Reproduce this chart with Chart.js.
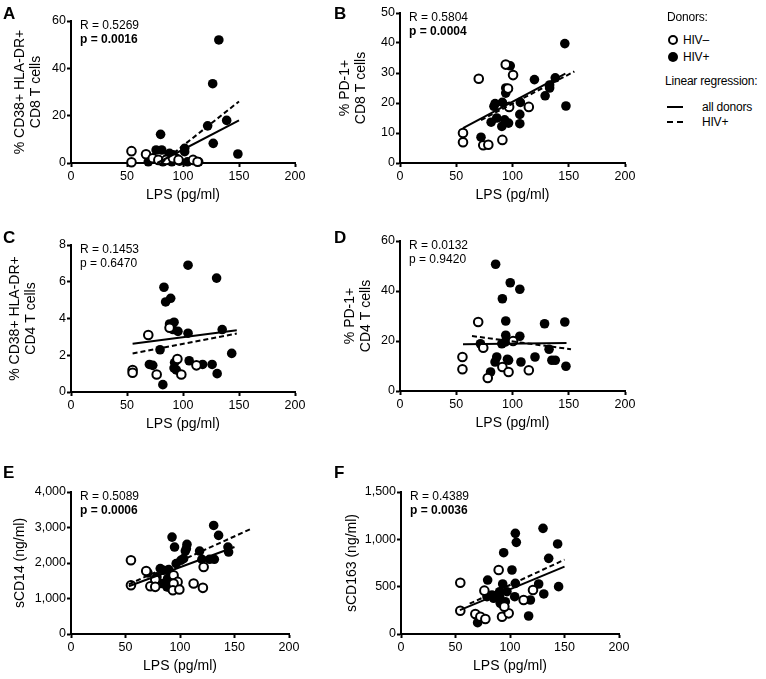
<!DOCTYPE html>
<html lang="en">
<head>
<meta charset="UTF-8">
<title>LPS correlations</title>
<script src="https://cdn.jsdelivr.net/npm/chart.js"></script>
<style>
  body { margin: 0; background: #fff; font-family: "Liberation Sans", Arial, sans-serif; color: #000; }
  #fig { position: relative; width: 766px; height: 679px; overflow: hidden; }
  canvas { position: absolute; }
  .tag { position: absolute; font-weight: bold; font-size: 17px; line-height: 17px; }
  .lg { position: absolute; font-size: 12px; line-height: 16px; letter-spacing: -0.2px; white-space: nowrap; }
  .dot { position: absolute; width: 6px; height: 6px; border: 2px solid #000; border-radius: 50%; background: #fff; }
  .dot.full { background: #000; width: 10px; height: 10px; border: 0; }
  .ln { position: absolute; width: 16px; border-top: 2px solid #000; }
  .ln.dash { border-top: 2px dashed #000; }
</style>
</head>
<body>
<div id="fig">
  <canvas id="pA"></canvas>
  <canvas id="pB"></canvas>
  <canvas id="pC"></canvas>
  <canvas id="pD"></canvas>
  <canvas id="pE"></canvas>
  <canvas id="pF"></canvas>

  <div class="tag" style="left:3px;top:5px">A</div>
  <div class="tag" style="left:334px;top:5px">B</div>
  <div class="tag" style="left:3px;top:229px">C</div>
  <div class="tag" style="left:334px;top:229px">D</div>
  <div class="tag" style="left:3px;top:464px">E</div>
  <div class="tag" style="left:334px;top:464px">F</div>

  <div class="lg" style="left:667px;top:9px">Donors:</div>
  <div class="dot" style="left:668px;top:35px"></div>
  <div class="lg" style="left:683px;top:32px">HIV–</div>
  <div class="dot full" style="left:668px;top:52px"></div>
  <div class="lg" style="left:683px;top:49px">HIV+</div>
  <div class="lg" style="left:665px;top:73px">Linear regression:</div>
  <div class="ln" style="left:667px;top:106px"></div>
  <div class="lg" style="left:702px;top:99px">all donors</div>
  <div class="ln dash" style="left:667px;top:121px"></div>
  <div class="lg" style="left:702px;top:114px">HIV+</div>
</div>

<script>
// x axis (LPS, pg/ml) is the same for every panel
const lpsTicks = [0, 50, 100, 150, 200];

// A: % CD38+ HLA-DR+ CD8 T cells
const aTicks = [0, 20, 40, 60];
const aNeg = [[54,5],[54,0.3],[67,3.7],[73,2],[78,1.3],[85,1.3],[91,2],[96,1.3],[109,1.3],[113,0.5]];
const aPos = [[132,52],[126.5,33.5],[122,15.7],[139,18],[127,8.3],[149,3.8],[80,12.1],[76,5.5],[81,5.5],
              [101.5,6.2],[101.5,4.8],[88,4.1],[91,3.5],[94,2],[86,2],[69,0.5],[82,0.5],[90,0.5],[104,0.5],[114,0.5],[97,0.8]];
const aFitAll = [[77,0],[150,18]];
const aFitPos = [[80.5,0],[150,26]];

// B: % PD-1+ CD8 T cells
const bTicks = [0, 10, 20, 30, 40, 50];
const bNeg = [[56,10],[56,6.9],[70,28.1],[74,5.9],[78.5,6.1],[91,7.7],[94,32.8],[96,24.8],[100.5,29.3],[97,18.7],[114.5,18.7]];
const bPos = [[72,8.6],[146.5,39.8],[147.5,19],[98,32.4],[119.5,27.8],[138,28.4],[133,26],[133,25],[129,22.4],[107,20.2],
              [106.5,16.2],[106.5,13.1],[94,25],[94,23.3],[84.5,19.8],[83.5,18.9],[91,20.2],[86,15],[81,13.6],[90.5,12.2],[93,14.4],[96.5,13.3]];
const bFitAll = [[56,11.6],[147,29.8]];
const bFitPos = [[72,14.3],[155,30.5]];

// C: % CD38+ HLA-DR+ CD4 T cells
const cTicks = [0, 2, 4, 6, 8];
const cNeg = [[69,3.1],[55,1.2],[55,1.05],[76.5,0.95],[95,1.8],[98.5,0.95],[112,1.45],[88,3.5]];
const cPos = [[104.5,6.9],[130,6.2],[83,5.7],[89,5.1],[84.5,4.9],[88,3.7],[92,3.8],[91,3.4],[95.5,3.3],[104.5,3.2],[135,3.4],
              [79.5,2.3],[143.5,2.1],[105.5,1.7],[92.5,1.6],[92,1.3],[94,1.2],[70,1.5],[73,1.45],[117.5,1.5],[126,1.5],[130.5,1.0],[82,0.4]];
const cFitAll = [[55,2.63],[148,3.36]];
const cFitPos = [[55,2.1],[148,3.18]];

// D: % PD-1+ CD4 T cells
const dTicks = [0, 20, 40, 60];
const dNeg = [[69.5,27.6],[55.5,13.6],[55.5,8.7],[74,17.3],[100.5,20],[91,9.6],[96.5,7.6],[114.5,8.3],[78,5.2]];
const dPos = [[85,50.7],[98,43.3],[106.5,40.7],[91,36.9],[94,28],[128.5,26.9],[146.5,27.6],[94,22.3],[106.5,21.9],[71.5,18.9],
              [90.5,18.9],[93.5,19.6],[132.5,16.7],[86,13.6],[84.5,11.6],[95.5,12.7],[96.5,12.3],[107.5,11.6],[120,13.6],[135,12.3],[138,12.3],[147.5,9.9],[80.5,7.6]];
const dFitAll = [[56,18.7],[148,19.2]];
const dFitPos = [[64,22],[152,16.7]];

// E: sCD14 (ng/ml)
const eTicks = [0, 1000, 2000, 3000, 4000];
const eNeg = [[55,2076],[55,1374],[69,1776],[77.3,1533],[72.8,1346],[77.3,1328],[94.1,1655],[97.8,1468],[94.1,1421],[93.5,1234],
              [99.4,1253],[112.5,1421],[121,1300],[121.7,1889]];
const ePos = [[130.9,3057],[135.4,2777],[92.7,2730],[95,2450],[106.4,2524],[105.8,2403],[104.9,2337],[118,2337],[144,2450],[144.6,2309],
              [103.3,2122],[100.8,2076],[96.5,1982],[120.1,2104],[127.1,2104],[131.5,2104],[81.9,1842],[84.9,1795],[89.6,1814],[70.6,1720],
              [78.8,1608],[88.6,1561],[83.4,1421],[88,1328],[91.8,1281],[89.6,1393],[95.7,1515]];
const eFitAll = [[53,1346],[150,2450]];
const eFitPos = [[53,1400],[165,2960]];

// F: sCD163 (ng/ml)
const fTicks = [0, 500, 1000, 1500];
const fNeg = [[54.4,542],[54.4,246],[68.2,211],[72.8,183],[77.4,158],[76.5,458],[89.6,676],[92.7,183],[98.8,218],[94.8,289],[112.5,359],[121.1,465]];
const fPos = [[104.9,1063],[105.8,968],[130.3,1116],[143.7,951],[135.5,799],[94.2,859],[101.8,676],[79.5,570],[93.3,528],[104.9,535],
              [126.3,528],[144.6,500],[97.2,447],[90.5,447],[83.5,412],[78.9,394],[85,377],[90.5,394],[104.3,394],[91.1,324],[95.7,341],
              [118.7,359],[131,423],[117.1,190],[70.3,120]];
const fFitAll = [[54,253],[150,712]];
const fFitPos = [[63,320],[150,785]];

Chart.defaults.font.family = '"Liberation Sans", Arial, sans-serif';
Chart.defaults.color = '#000';

// R / p text in the top left corner of each plot
const statsText = {
  id: 'statsText',
  afterDraw(chart, args, opts) {
    const { ctx, chartArea } = chart;
    ctx.save();
    ctx.fillStyle = '#000';
    ctx.textBaseline = 'middle';
    ctx.font = '12px "Liberation Sans", Arial, sans-serif';
    ctx.fillText(opts.r, chartArea.left + 9, chartArea.top + 4.5);
    ctx.font = (opts.bold ? 'bold ' : '') + '12px "Liberation Sans", Arial, sans-serif';
    ctx.fillText(opts.p, chartArea.left + 9, chartArea.top + 19);
    ctx.restore();
  }
};

const pts = arr => arr.map(([x, y]) => ({ x, y }));
const fmt = v => v.toLocaleString('en-US');

function makePanel(id, g, yTitle, yTicks, neg, pos, fitAll, fitPos, r, p, bold) {
  const canvas = document.getElementById(id);
  canvas.width = g.cw;
  canvas.height = g.ch;
  canvas.style.left = g.cx + 'px';
  canvas.style.top = g.cy + 'px';
  const boxLeft = g.t1 - 8;
  const yw = g.L - boxLeft;
  const axisGrid = { drawOnChartArea: false, drawTicks: true, tickLength: 4, tickWidth: 2, tickColor: '#000' };
  const axisBorder = { display: true, color: '#000', width: 2 };

  new Chart(canvas, {
    type: 'scatter',
    data: {
      datasets: [
        { data: pts(fitAll), showLine: true, fill: false, borderColor: '#000', borderWidth: 2, pointRadius: 0, order: 0 },
        { data: pts(fitPos), showLine: true, fill: false, borderColor: '#000', borderWidth: 2, borderDash: [5, 3], pointRadius: 0, order: 0 },
        { data: pts(neg), backgroundColor: '#fff', borderColor: '#000', borderWidth: 2, pointRadius: 4.3, order: 1 },
        { data: pts(pos), backgroundColor: '#000', borderColor: '#000', borderWidth: 0, pointRadius: 4.8, order: 2 }
      ]
    },
    options: {
      responsive: false,
      animation: false,
      events: [],
      clip: false,
      layout: {
        padding: { left: boxLeft - g.cx, top: g.T - g.cy, right: g.cx + g.cw - g.R, bottom: g.cy + g.ch - g.B - 40 }
      },
      plugins: {
        legend: { display: false },
        tooltip: { enabled: false },
        statsText: { r: r, p: p, bold: bold }
      },
      scales: {
        x: {
          type: 'linear',
          min: lpsTicks[0],
          max: lpsTicks[lpsTicks.length - 1],
          afterBuildTicks: s => { s.ticks = lpsTicks.map(v => ({ value: v })); },
          afterFit: s => { s.height = 40; },
          grid: axisGrid,
          border: axisBorder,
          ticks: { font: { size: 12.5 }, padding: 2, maxRotation: 0, autoSkip: false, color: '#000' },
          title: { display: true, text: 'LPS (pg/ml)', font: { size: 14, lineHeight: 1.15 }, padding: 0, color: '#000' }
        },
        y: {
          type: 'linear',
          min: yTicks[0],
          max: yTicks[yTicks.length - 1],
          afterBuildTicks: s => { s.ticks = yTicks.map(v => ({ value: v })); },
          afterFit: s => { s.width = yw; },
          grid: axisGrid,
          border: axisBorder,
          ticks: { font: { size: 12.5 }, padding: 1, autoSkip: false, color: '#000', callback: v => fmt(v) },
          title: { display: true, text: yTitle, font: { size: 14, lineHeight: 1.15 }, padding: 0, color: '#000' }
        }
      }
    },
    plugins: [statsText]
  });
}

makePanel('pA', { cx: 0, cy: 0, cw: 330, ch: 215, L: 71, R: 295, T: 21, B: 163, t1: 20 },
  ['% CD38+ HLA-DR+', 'CD8 T cells'], aTicks, aNeg, aPos, aFitAll, aFitPos, 'R = 0.5269', 'p = 0.0016', true);
makePanel('pB', { cx: 330, cy: 0, cw: 310, ch: 215, L: 400, R: 625, T: 13, B: 163, t1: 345 },
  ['% PD-1+', 'CD8 T cells'], bTicks, bNeg, bPos, bFitAll, bFitPos, 'R = 0.5804', 'p = 0.0004', true);
makePanel('pC', { cx: 0, cy: 215, cw: 330, ch: 225, L: 71, R: 295, T: 245, B: 392, t1: 15 },
  ['% CD38+ HLA-DR+', 'CD4 T cells'], cTicks, cNeg, cPos, cFitAll, cFitPos, 'R = 0.1453', 'p = 0.6470', false);
makePanel('pD', { cx: 330, cy: 215, cw: 310, ch: 225, L: 400, R: 625, T: 241, B: 391, t1: 350 },
  ['% PD-1+', 'CD4 T cells'], dTicks, dNeg, dPos, dFitAll, dFitPos, 'R = 0.0132', 'p = 0.9420', false);
makePanel('pE', { cx: 0, cy: 440, cw: 330, ch: 239, L: 71, R: 289, T: 492, B: 634, t1: 20 },
  'sCD14 (ng/ml)', eTicks, eNeg, ePos, eFitAll, eFitPos, 'R = 0.5089', 'p = 0.0006', true);
makePanel('pF', { cx: 330, cy: 440, cw: 310, ch: 239, L: 401, R: 619, T: 492, B: 634, t1: 352 },
  'sCD163 (ng/ml)', fTicks, fNeg, fPos, fFitAll, fFitPos, 'R = 0.4389', 'p = 0.0036', true);
</script>
</body>
</html>
